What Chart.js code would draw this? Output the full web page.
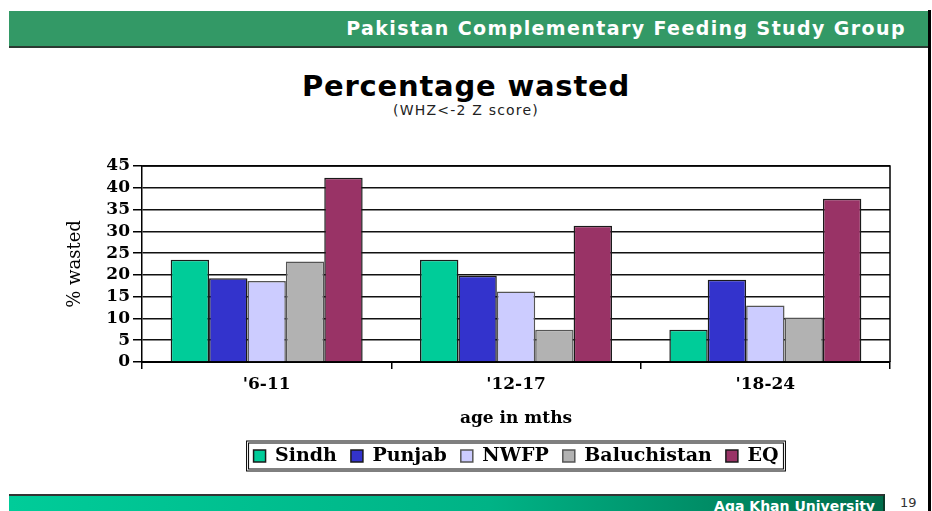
<!DOCTYPE html>
<html>
<head>
<meta charset="utf-8">
<script src="https://cdn.jsdelivr.net/npm/chart.js@4/dist/chart.umd.min.js"></script>
<style>
  body { margin: 0; background: #fff; width: 932px; height: 511px; overflow: hidden; position: relative; font-family: "DejaVu Sans", sans-serif; }
  #topBar { position: absolute; left: 9px; top: 11px; width: 919px; height: 35px; background: #339966; border-bottom: 2px solid #2b3a32; }
  #topBar span { position: absolute; right: 22px; top: 6px; color: #fff; font-weight: bold; font-size: 19px; letter-spacing: 1.4px; }
  #edge { position: absolute; left: 928px; top: 10px; width: 3px; height: 501px; background: #000; }
  #titulo { position: absolute; left: 0; top: 69px; width: 932px; text-align: center; font-weight: bold; font-size: 29px; letter-spacing: 0.8px; color: #000; }
  #subtitulo { position: absolute; left: 0; top: 102px; width: 932px; text-align: center; font-size: 14px; letter-spacing: 1.2px; color: #222; }
  #bottomBar { position: absolute; left: 9px; top: 494px; width: 874px; height: 17px; border-top: 2px solid #333; border-right: 2px solid #0b3b2a;
    background: linear-gradient(to right, #00cc99, #00b386 55%, #006e4c); }
  #bottomBar span { position: absolute; right: 8px; top: 2px; color: #fff; font-size: 14px; font-weight: bold; }
  #pagina { position: absolute; left: 900px; top: 495px; font-size: 13px; color: #333; }
  canvas { position: absolute; left: 0; top: 0; }
</style>
</head>
<body>
<div id="topBar"><span>Pakistan Complementary Feeding Study Group</span></div>
<div id="edge"></div>
<div id="titulo">Percentage wasted</div>
<div id="subtitulo">(WHZ&lt;-2 Z score)</div>
<div id="bottomBar"><span>Aga Khan University</span></div>
<div id="pagina">19</div>
<canvas id="grafico" width="932" height="511"></canvas>
<script>
// faixas etárias e % de crianças com WHZ < -2
const faixas = ["'6-11", "'12-17", "'18-24"];
const sindh = [23.5, 23.5, 7.4];
const punjab = [19.2, 19.8, 18.9];
const nwfp = [18.6, 16.2, 13.0];
const baluchistan = [23.1, 7.4, 10.2];
const eq = [42.3, 31.3, 37.5];
const yMax = 45;
const yPasso = 5;

const serif = "'DejaVu Serif', serif";

// borda direita do gráfico e moldura da legenda
const moldura = {
  id: 'moldura',
  afterLayout(chart) {
    // legenda centralizada na área do gráfico
    chart.legend.left = chart.chartArea.left;
    chart.legend.right = chart.chartArea.right;
  },
  beforeDatasetsDraw(chart) {
    const { ctx, chartArea: a } = chart;
    ctx.save();
    ctx.strokeStyle = '#000';
    ctx.lineWidth = 1.5;
    ctx.beginPath();
    ctx.moveTo(a.left, a.top);
    ctx.lineTo(a.right, a.top);
    ctx.lineTo(a.right, a.bottom);
    ctx.stroke();
    ctx.restore();
  },
  afterDraw(chart) {
    const lg = chart.legend;
    const boxes = lg.legendHitBoxes;
    if (!boxes || !boxes.length) return;
    const ultimo = boxes[boxes.length - 1];
    const x0 = boxes[0].left - 7;
    const x1 = ultimo.left + ultimo.width + 7;
    const cy = boxes[0].top + boxes[0].height / 2;
    const { ctx } = chart;
    ctx.save();
    ctx.strokeStyle = '#000';
    ctx.lineWidth = 1;
    ctx.strokeRect(x0, cy - 15, x1 - x0, 30);
    ctx.strokeRect(x0 + 2, cy - 13, x1 - x0 - 4, 26);
    ctx.restore();
  }
};

const ctx = document.getElementById('grafico').getContext('2d');
new Chart(ctx, {
  type: 'bar',
  data: {
    labels: faixas,
    datasets: [
      { label: 'Sindh', data: sindh, backgroundColor: '#00cc99', borderColor: '#1a1a1a' },
      { label: 'Punjab', data: punjab, backgroundColor: '#3333cc', borderColor: '#1a1a1a' },
      { label: 'NWFP', data: nwfp, backgroundColor: '#ccccff', borderColor: '#555' },
      { label: 'Baluchistan', data: baluchistan, backgroundColor: '#b2b2b2', borderColor: '#555' },
      { label: 'EQ', data: eq, backgroundColor: '#993366', borderColor: '#1a1a1a' }
    ]
  },
  options: {
    responsive: false,
    animation: false,
    layout: { padding: { top: 166, left: 60, right: 42, bottom: 35.5 } },
    datasets: {
      bar: { borderWidth: 1.5, barPercentage: 1, categoryPercentage: 0.77 }
    },
    scales: {
      y: {
        min: 0,
        max: yMax,
        ticks: { stepSize: yPasso, autoSkip: false, color: '#000', padding: 3, font: { family: serif, size: 17, weight: 'bold' } },
        grid: { color: '#111', lineWidth: 1.5, tickLength: 9, tickColor: '#000' },
        border: { color: '#000', width: 1.5 },
        title: { display: true, text: '% wasted', color: '#000', padding: { top: 5 }, font: { family: serif, size: 18 } },
        afterFit(scale) { scale.width = 82; }
      },
      x: {
        ticks: { color: '#000', padding: 5, font: { family: serif, size: 17, weight: 'bold' } },
        grid: { drawOnChartArea: false, drawTicks: true, tickLength: 7, tickColor: '#000', lineWidth: 1.5 },
        border: { color: '#000', width: 2 },
        title: { display: true, text: 'age in mths', color: '#000', padding: { top: 0, bottom: 4 }, font: { family: serif, size: 17, weight: 'bold' } },
        afterFit(scale) { scale.height = 70.5; }
      }
    },
    plugins: {
      legend: {
        position: 'bottom',
        labels: { boxWidth: 12, boxHeight: 12, padding: 14, color: '#000', font: { family: serif, size: 19, weight: 'bold' } }
      },
      tooltip: { enabled: false }
    }
  },
  plugins: [moldura]
});
</script>
</body>
</html>
